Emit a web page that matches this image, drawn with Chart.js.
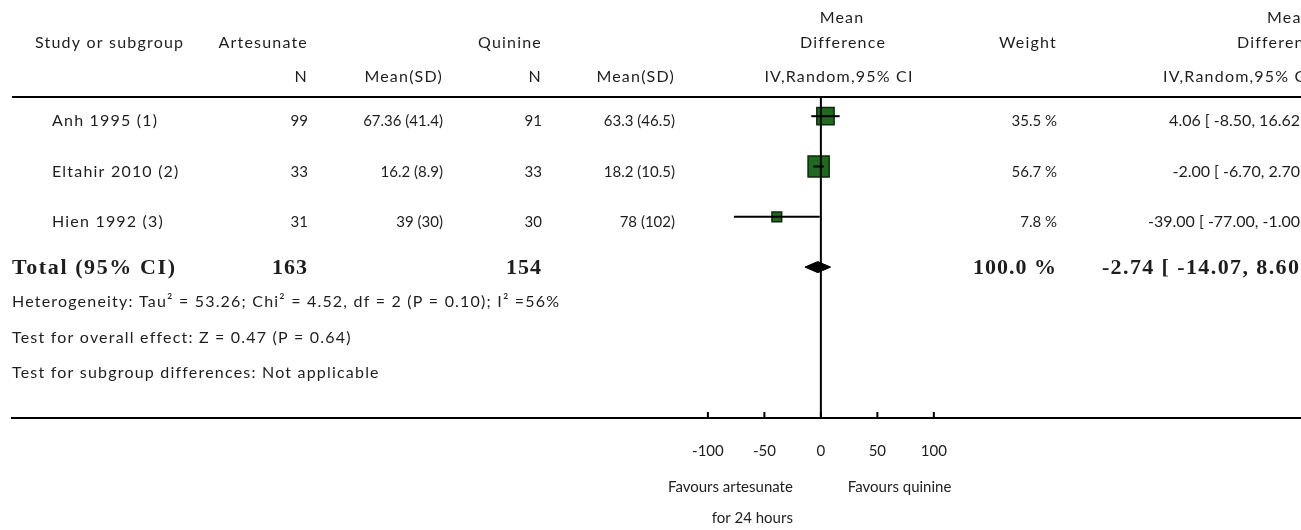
<!DOCTYPE html>
<html lang="en">
<head>
<meta charset="UTF-8">
<title>Forest plot</title>
<script src="https://cdn.jsdelivr.net/npm/chart.js"></script>
<style>
  body { margin: 0; padding: 0; background: #ffffff; }
  #wrap { width: 1301px; height: 530px; }
</style>
</head>
<body>
<div id="wrap"><canvas id="forest" width="1301" height="530"></canvas></div>
<script>
// study data
const studies = ['Anh 1995 (1)', 'Eltahir 2010 (2)', 'Hien 1992 (3)'];
const artN = [99, 33, 31];
const artMean = [67.36, 16.2, 39];
const artSD = [41.4, 8.9, 30];
const quiN = [91, 33, 30];
const quiMean = [63.3, 18.2, 78];
const quiSD = [46.5, 10.5, 102];
const weights = [35.5, 56.7, 7.8];
const md = [4.06, -2.00, -39.00];
const ciLo = [-8.50, -6.70, -77.00];
const ciHi = [16.62, 2.70, -1.00];

// pooled result
const artTotal = 163;
const quiTotal = 154;
const totalWeight = 100.0;
const totalMD = -2.74;
const totalLo = -14.07;
const totalHi = 8.60;

const tickValues = [-100, -50, 0, 50, 100];

const footLines = [
  'Heterogeneity: Tau\u00B2 = 53.26; Chi\u00B2 = 4.52, df = 2 (P = 0.10); I\u00B2 =56%',
  'Test for overall effect: Z = 0.47 (P = 0.64)',
  'Test for subgroup differences: Not applicable'
];

const sans = 'Lato';
const ink = '#1e1e1e';
const totalRow = studies.length;

function fmtCI(m, lo, hi) {
  return m.toFixed(2) + ' [ ' + lo.toFixed(2) + ', ' + hi.toFixed(2) + ' ]';
}

// CI whiskers, one dataset each
const ciSets = studies.map((s, i) => ({
  label: s + ' CI',
  data: [{ x: ciLo[i], y: i }, { x: ciHi[i], y: i }],
  showLine: true,
  borderColor: '#000',
  borderWidth: 2,
  pointRadius: 0,
  order: 1
}));

const squareSet = {
  label: 'Mean difference',
  data: studies.map((s, i) => ({ x: md[i], y: i })),
  pointStyle: 'rect',
  pointRadius: weights.map(w => (3 + 2.4 * Math.sqrt(w)) / Math.SQRT2),
  backgroundColor: '#1f6a1f',
  borderColor: '#0b2a0b',
  borderWidth: 1.5,
  order: 2
};

const dh = 0.11;
const diamondSet = {
  label: 'Total',
  data: [
    { x: totalLo, y: totalRow },
    { x: totalMD, y: totalRow - dh },
    { x: totalHi, y: totalRow },
    { x: totalMD, y: totalRow + dh },
    { x: totalLo, y: totalRow }
  ],
  showLine: true,
  fill: 'shape',
  backgroundColor: '#000',
  borderColor: '#000',
  borderWidth: 1,
  pointRadius: 0,
  order: 1
};

const tablePlugin = {
  id: 'table',
  afterDatasetsDraw(chart) {
    const { ctx, scales: { x } } = chart;
    const area = chart.chartArea;
    const zero = x.getPixelForValue(0);

    ctx.save();
    ctx.strokeStyle = '#000';
    ctx.lineWidth = 2;
    // header rule
    ctx.beginPath();
    ctx.moveTo(area.left, 97);
    ctx.lineTo(area.right, 97);
    ctx.stroke();
    // line of no effect
    ctx.beginPath();
    ctx.moveTo(zero, 97);
    ctx.lineTo(zero, area.bottom);
    ctx.stroke();
    // tick marks above the axis
    ctx.beginPath();
    x.ticks.forEach(t => {
      const px = x.getPixelForValue(t.value);
      ctx.moveTo(px, area.bottom - 6);
      ctx.lineTo(px, area.bottom);
    });
    ctx.stroke();

    ctx.fillStyle = ink;
    ctx.textBaseline = 'middle';
    // words: wider spacing; numbers: plain
    const put = (txt, px, py, align, font, spacing) => {
      ctx.font = font || ('16px ' + sans);
      ctx.letterSpacing = spacing || '0px';
      ctx.textAlign = align;
      ctx.fillText(txt, px, py);
    };
    const word = (txt, px, py, align) => put(txt, px, py, align, '16px ' + sans, '1.2px');
    const num = (txt, px, py, align) => put(txt, px, py, align, '15px ' + sans, '0px');
    const numCI = (txt, px, py) => put(txt, px, py, 'right', '16px ' + sans, '0px');

    // headers
    word('Mean', 842, 18, 'center');
    word('Mean', 1267, 18, 'left');
    word('Study or subgroup', 35, 43, 'left');
    word('Artesunate', 308, 43, 'right');
    word('Quinine', 542, 43, 'right');
    word('Difference', 843, 43, 'center');
    word('Weight', 1057, 43, 'right');
    word('Difference', 1237, 43, 'left');
    word('N', 308, 77, 'right');
    word('Mean(SD)', 443, 77, 'right');
    word('N', 542, 77, 'right');
    word('Mean(SD)', 675, 77, 'right');
    word('IV,Random,95% CI', 839, 77, 'center');
    word('IV,Random,95% CI', 1163, 77, 'left');

    // study rows
    const rowY = [121, 172, 222];
    studies.forEach((s, i) => {
      const y = rowY[i];
      word(s, 52, y, 'left');
      num(String(artN[i]), 308, y, 'right');
      num(artMean[i] + ' (' + artSD[i] + ')', 443, y, 'right');
      num(String(quiN[i]), 542, y, 'right');
      num(quiMean[i] + ' (' + quiSD[i] + ')', 675, y, 'right');
      num(weights[i].toFixed(1) + ' %', 1057, y, 'right');
      numCI(fmtCI(md[i], ciLo[i], ciHi[i]), 1309, y);
    });

    // total row
    const bold = 'bold 22px "Liberation Serif"';
    put('Total (95% CI)', 12, 268, 'left', bold, '1.6px');
    put(String(artTotal), 308, 268, 'right', bold, '1px');
    put(String(quiTotal), 542, 268, 'right', bold, '1px');
    put(totalWeight.toFixed(1) + ' %', 1057, 268, 'right', bold, '1px');
    put(fmtCI(totalMD, totalLo, totalHi), 1316, 268, 'right', bold, '1.4px');

    // footnotes
    const footY = [302, 338, 373];
    footLines.forEach((t, i) => word(t, 12, footY[i], 'left'));

    // favours labels
    put('Favours artesunate', zero - 28, 487, 'right', '15px ' + sans, '0px');
    put('for 24 hours', zero - 28, 518, 'right', '15px ' + sans, '0px');
    put('Favours quinine', zero + 27, 487, 'left', '15px ' + sans, '0px');
    ctx.restore();
  }
};

new Chart(document.getElementById('forest'), {
  type: 'scatter',
  data: { datasets: [...ciSets, diamondSet, squareSet] },
  options: {
    responsive: false,
    animation: false,
    layout: { autoPadding: false, padding: { left: 12, right: 0, top: 0, bottom: 0 } },
    plugins: { legend: { display: false }, tooltip: { enabled: false } },
    scales: {
      x: {
        type: 'linear',
        min: -716,
        max: 425,
        afterBuildTicks: s => { s.ticks = tickValues.map(v => ({ value: v })); },
        afterFit: s => {
          s.height = 112;
          s.paddingLeft = 0;
          s.paddingRight = 0;
        },
        grid: { display: false, drawTicks: false },
        border: { display: true, color: '#000', width: 2 },
        ticks: {
          padding: 24,
          color: ink,
          font: { family: sans, size: 15 }
        }
      },
      y: {
        type: 'linear',
        display: false,
        reverse: true,
        min: -2.31,
        max: 6.0
      }
    }
  },
  plugins: [tablePlugin]
});
</script>
</body>
</html>
